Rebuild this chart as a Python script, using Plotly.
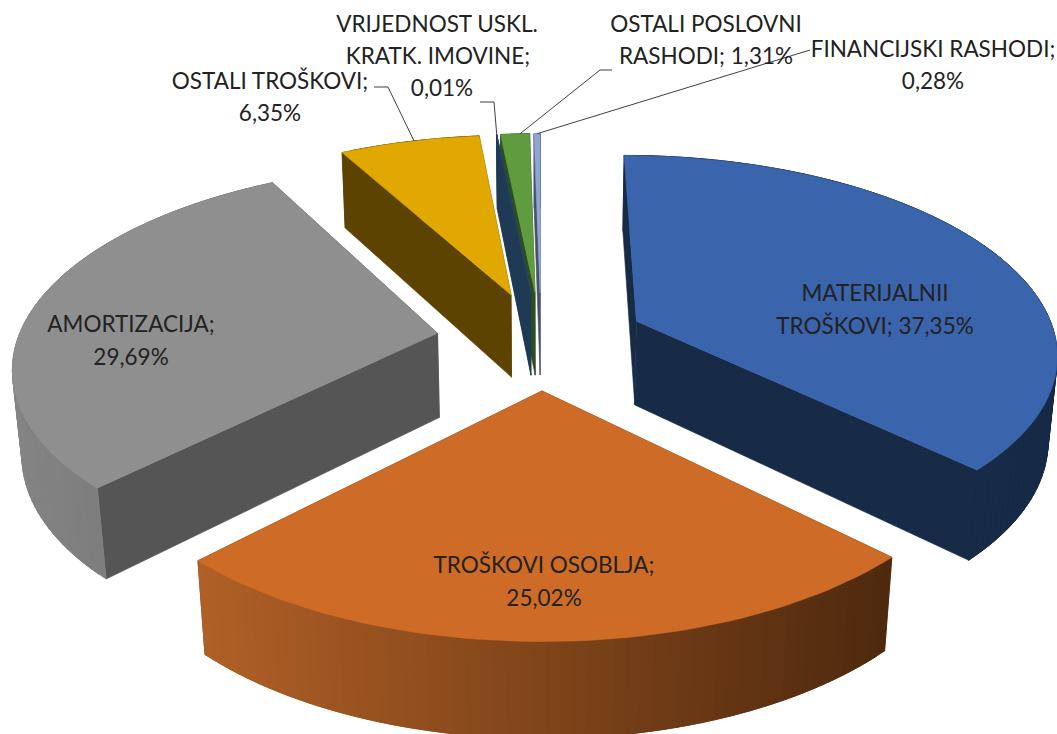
import math
import plotly.graph_objects as go

# ---------- data ----------
categories = ["MATERIJALNII TROŠKOVI", "TROŠKOVI OSOBLJA", "AMORTIZACIJA", "OSTALI TROŠKOVI",
              "VRIJEDNOST USKL. KRATK. IMOVINE", "OSTALI POSLOVNI RASHODI", "FINANCIJSKI RASHODI"]
values = [37.35, 25.02, 29.69, 6.35, 0.01, 1.31, 0.28]

# ---------- styles ----------
top_colors = ["#3A64AC", "#CE6B27", "#8F8F8F", "#E0A800", "#264478", "#5F9C3F", "#8FA5D3"]
wall_colors = ["#172A46", "#5A3010", "#555555", "#5C4400", "#1F3A55", "#2F4E1F", "#46526C"]
arc_start = [(23, 42, 70), (176, 96, 38), (132, 132, 132), (92, 68, 0), (31, 58, 85), (47, 78, 31), (70, 82, 108)]
arc_end = [(23, 42, 70), (78, 41, 14), (112, 112, 112), (92, 68, 0), (31, 58, 85), (47, 78, 31), (70, 82, 108)]
draw_order = [3, 6, 5, 4, 2, 0, 1]

# projection of the pie plane on the page
CX, CY, A, B, P, D, Q, EXPLODE = 541, 340, 420, 196, 0.15, 86, 0.018, 0.25


def project(x, y, low):
    w = 1 + P * y + (Q if low else 0)
    return CX + A * x / w, CY + (-B * y + (D if low else 0)) / w


fig = go.Figure()


def poly(pts, color, width=0.6):
    xs = [p[0] for p in pts] + [pts[0][0]]
    ys = [p[1] for p in pts] + [pts[0][1]]
    fig.add_trace(go.Scatter(x=xs, y=ys, mode="lines", fill="toself", fillcolor=color,
                             line=dict(color=color, width=width), hoverinfo="skip", showlegend=False))


total = sum(values)
spans = []
acc = 0.0
for v in values:
    spans.append((acc / total * 2 * math.pi, (acc + v) / total * 2 * math.pi))
    acc += v


def mix(c1, c2, t):
    return "rgb(%d,%d,%d)" % tuple(round(a + (b - a) * t) for a, b in zip(c1, c2))


# where each leader line meets its slice, as a share of the way along the rim
leader_share = {3: 0.55, 4: 0.5, 5: 0.5, 6: 0.5}
arc_mid = {}
for i in draw_order:
    t1, t2 = spans[i]
    bis = (t1 + t2) / 2
    ox, oy = EXPLODE * math.sin(bis), EXPLODE * math.cos(bis)
    n = max(2, int((t2 - t1) / math.radians(1.5)))
    rim = [(ox + math.sin(t1 + (t2 - t1) * k / n), oy + math.cos(t1 + (t2 - t1) * k / n)) for k in range(n + 1)]
    apex = (ox, oy)
    # radial walls
    for end in (rim[0], rim[-1]):
        poly([project(*apex, False), project(*end, False), project(*end, True), project(*apex, True)],
             wall_colors[i], width=0.6)
    # rim wall: the shading runs across the page; each strip runs on under the next so no seam shows
    xs_page = [project(*r, False)[0] for r in rim]
    lo, hi = min(xs_page), max(xs_page)
    for k in range(n):
        u = (xs_page[k] + xs_page[k + 1]) / 2
        f = (u - lo) / (hi - lo) if hi > lo else 0
        j = min(n, k + 2)
        poly([project(*rim[k], False), project(*rim[j], False),
              project(*rim[j], True), project(*rim[k], True)], mix(arc_start[i], arc_end[i], f), width=0.8)
    # top face
    poly([project(*apex, False)] + [project(*r, False) for r in rim], top_colors[i])
    if i in leader_share:
        arc_mid[i] = project(*rim[round(n * leader_share[i])], False)

# ---------- leader lines ----------
leaders = {3: [(374, 87), (388, 87)], 4: [(480, 102), (494, 102)], 5: [(612, 70), (600, 70)], 6: [(810, 50)]}
for i, pts in leaders.items():
    end = arc_mid[i]
    xs = [p[0] for p in pts] + [end[0]]
    ys = [p[1] for p in pts] + [end[1]]
    fig.add_trace(go.Scatter(x=xs, y=ys, mode="lines", line=dict(color="#404040", width=1),
                             hoverinfo="skip", showlegend=False))

# ---------- labels ----------
label_lines = ["VRIJEDNOST USKL.", "KRATK. IMOVINE;", "0,01%",
               "OSTALI TROŠKOVI;", "6,35%",
               "OSTALI POSLOVNI", "RASHODI; 1,31%",
               "FINANCIJSKI RASHODI;", "0,28%",
               "MATERIJALNII", "TROŠKOVI; 37,35%",
               "AMORTIZACIJA;", "29,69%",
               "TROŠKOVI OSOBLJA;", "25,02%"]
label_x = [437, 438, 442, 270, 270, 706, 706, 933, 933, 875, 875, 131, 131, 544, 544]
label_y = [26, 58, 90, 83, 115, 26, 58, 51, 83, 295, 328, 326, 359, 567, 600]
fig.add_trace(go.Scatter(x=label_x, y=label_y, mode="text", text=label_lines, textposition="middle center",
                         textfont=dict(family="Lato", size=22.5, color="#222222"),
                         hoverinfo="skip", showlegend=False, cliponaxis=False))

fig.update_layout(width=1057, height=734, margin=dict(l=0, r=0, t=0, b=0),
                  paper_bgcolor="white", plot_bgcolor="white", showlegend=False,
                  xaxis=dict(range=[0, 1057], visible=False, fixedrange=True),
                  yaxis=dict(range=[734, 0], visible=False, fixedrange=True))
fig.write_html("out.html", config=dict(displayModeBar=False),
               post_script="document.body.style.margin='0';document.documentElement.style.overflow='hidden';")
